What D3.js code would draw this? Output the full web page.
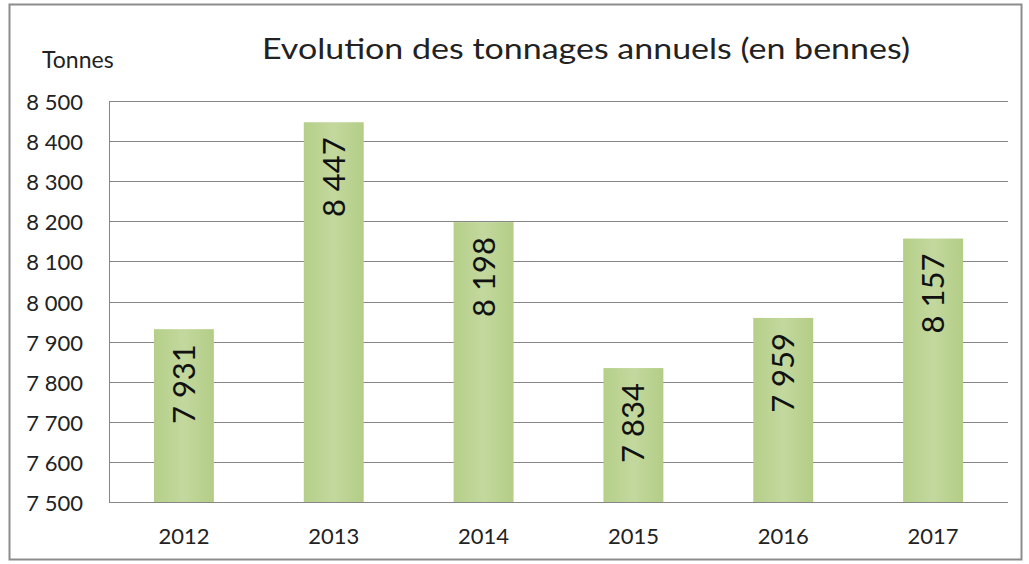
<!DOCTYPE html>
<html>
<head>
<meta charset="utf-8">
<script src="https://cdn.jsdelivr.net/npm/d3@7"></script>
<style>
  body { margin: 0; background: #fff; }
  svg text { font-family: Lato, "Open Sans", sans-serif; fill: #222; }
</style>
</head>
<body>
<svg id="chart" width="1029" height="564"></svg>
<script>
// données
var annees = ["2012", "2013", "2014", "2015", "2016", "2017"];
var tonnages = [7931, 8447, 8198, 7834, 7959, 8157];
var graduations = [7500, 7600, 7700, 7800, 7900, 8000, 8100, 8200, 8300, 8400, 8500];

var svg = d3.select("#chart");
var marge = {left: 109, right: 1008, top: 101, bottom: 502};

// cadre extérieur
svg.append("rect")
  .attr("x", 9.5).attr("y", 4.5)
  .attr("width", 1012).attr("height", 555)
  .attr("fill", "#fff")
  .attr("stroke", "#8c8c8c").attr("stroke-width", 2);

var x = d3.scaleBand()
  .domain(annees)
  .range([marge.left, marge.right])
  .paddingInner(0.6).paddingOuter(0.3);

var y = d3.scaleLinear()
  .domain([7500, 8500])
  .range([marge.bottom, marge.top]);

var fmt = function(v) { return d3.format(",")(v).replace(",", " "); };

// grille
svg.append("g")
  .selectAll("line")
  .data(graduations)
  .enter()
  .append("line")
    .attr("x1", marge.left).attr("x2", marge.right)
    .attr("y1", d => Math.round(y(d)) + 0.5).attr("y2", d => Math.round(y(d)) + 0.5)
    .attr("stroke", "#868686").attr("stroke-width", 1);

// axe vertical
svg.append("line")
  .attr("x1", marge.left + 0.5).attr("x2", marge.left + 0.5)
  .attr("y1", marge.top).attr("y2", marge.bottom)
  .attr("stroke", "#868686");

// barres
var grad = svg.append("defs").append("linearGradient")
  .attr("id", "vert").attr("x1", 0).attr("x2", 1).attr("y1", 0).attr("y2", 0);
grad.append("stop").attr("offset", "0%").attr("stop-color", "#b5cf89");
grad.append("stop").attr("offset", "50%").attr("stop-color", "#c3d89e");
grad.append("stop").attr("offset", "100%").attr("stop-color", "#b3cd86");

svg.append("g")
  .selectAll("rect")
  .data(tonnages)
  .enter()
  .append("rect")
    .attr("x", (d, i) => x(annees[i]))
    .attr("width", x.bandwidth())
    .attr("y", d => y(d))
    .attr("height", d => y(7500) - y(d))
    .attr("fill", "url(#vert)");

// étiquettes de valeurs (verticales)
svg.append("g")
  .selectAll("text")
  .data(tonnages)
  .enter()
  .append("text")
    .attr("transform", (d, i) => "translate(" + (x(annees[i]) + x.bandwidth() / 2 + 11) + "," + (y(d) + 15) + ") rotate(-90)")
    .attr("text-anchor", "end")
    .style("font-size", "31px")
    .style("fill", "#111")
    .text(d => fmt(d));

// libellés de l'axe Y
svg.append("g")
  .selectAll("text")
  .data(graduations)
  .enter()
  .append("text")
    .attr("x", 83)
    .attr("y", d => y(d) + 9)
    .attr("text-anchor", "end")
    .style("font-size", "22px")
    .text(d => fmt(d));

// libellés de l'axe X
svg.append("g")
  .selectAll("text")
  .data(annees)
  .enter()
  .append("text")
    .attr("x", d => x(d) + x.bandwidth() / 2)
    .attr("y", 544)
    .attr("text-anchor", "middle")
    .style("font-size", "22px")
    .text(d => d);

svg.append("text")
  .attr("x", 42).attr("y", 68)
  .style("font-size", "23px")
  .text("Tonnes");

svg.append("text")
  .attr("x", 586).attr("y", 59)
  .attr("text-anchor", "middle")
  .attr("textLength", 648)
  .attr("lengthAdjust", "spacingAndGlyphs")
  .style("font-size", "29px")
  .text("Evolution des tonnages annuels (en bennes)");
</script>
</body>
</html>
